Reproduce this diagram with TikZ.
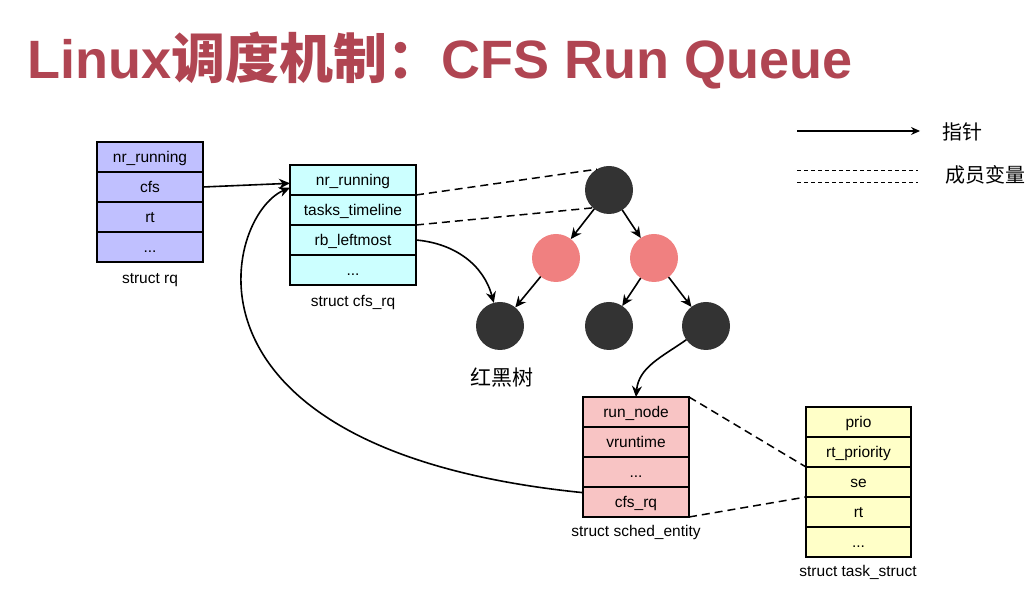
\documentclass[tikz,border=0pt]{standalone}
\usepackage{fontspec}
\setmainfont{Liberation Sans}
\newfontfamily\cjk{Noto Sans CJK SC}
\usetikzlibrary{arrows.meta,positioning}
\definecolor{titlered}{HTML}{B04552}
\definecolor{rqblue}{HTML}{C0C0FF}
\definecolor{cfscyan}{HTML}{CCFFFF}
\definecolor{sepink}{HTML}{F8C4C4}
\definecolor{tsyellow}{HTML}{FFFFC8}
\definecolor{rbdark}{HTML}{333333}
\definecolor{rbpink}{HTML}{F08080}

\tikzset{
  field/.style={draw, line width=1.8pt, outer sep=0pt, inner sep=0pt,
    minimum height=30pt, text height=12pt, text depth=0pt,
    font=\fontsize{15.5}{18}\selectfont},
  rqfield/.style={field, fill=rqblue, minimum width=106pt},
  cfsfield/.style={field, fill=cfscyan, minimum width=126pt},
  sefield/.style={field, fill=sepink, minimum width=106pt},
  tsfield/.style={field, fill=tsyellow, minimum width=105pt},
  caption/.style={anchor=base, inner sep=0pt, font=\fontsize{15.5}{18}\selectfont},
  rbblack/.style={circle, fill=rbdark, minimum size=48pt, inner sep=0pt, outer sep=0pt},
  rbred/.style={rbblack, fill=rbpink},
  ptr/.style={-{Stealth[length=11pt, width=10pt]}, line width=1.6pt},
  member/.style={dash pattern=on 8pt off 5pt, line width=1.5pt}
}

\begin{document}
\begin{tikzpicture}[x=1pt, y=1pt]
  \useasboundingbox (0,0) rectangle (1034,600);

  % -- title ----------------------------------------------------------------
  \node[anchor=base west, inner sep=0pt, text=titlered,
        font=\fontsize{54}{60}\selectfont\bfseries] (title) at (27,521)
        {Linux{\cjk 调度机制：}CFS Run Queue};

  % -- struct rq ------------------------------------------------------------
  \node[rqfield] (rq1) at (150,443) {nr\_running};
  \node[rqfield, below=0pt of rq1] (rq2) {cfs};
  \node[rqfield, below=0pt of rq2] (rq3) {rt};
  \node[rqfield, below=0pt of rq3] (rq4) {...};
  \node[caption] (rq-cap) at (150,316) {struct rq};

  % -- struct cfs_rq --------------------------------------------------------
  \node[cfsfield] (cfs1) at (353,420) {nr\_running};
  \node[cfsfield, below=0pt of cfs1] (cfs2) {tasks\_timeline};
  \node[cfsfield, below=0pt of cfs2] (cfs3) {rb\_leftmost};
  \node[cfsfield, below=0pt of cfs3] (cfs4) {...};
  \node[caption] (cfs-cap) at (353,293) {struct cfs\_rq};

  % -- red-black tree -------------------------------------------------------
  \node[rbblack] (root) at (609,410) {};
  \node[rbred]   (redl) at (556,342) {};
  \node[rbred]   (redr) at (654,342) {};
  \node[rbblack] (leaf1) at (500,274) {};
  \node[rbblack] (leaf2) at (609,274) {};
  \node[rbblack] (leaf3) at (706,274) {};
  \node[font=\cjk\fontsize{21}{24}\selectfont] (rb-cap) at (502,222) {红黑树};

  % -- struct sched_entity --------------------------------------------------
  \node[sefield] (se1) at (636,188) {run\_node};
  \node[sefield, below=0pt of se1] (se2) {vruntime};
  \node[sefield, below=0pt of se2] (se3) {...};
  \node[sefield, below=0pt of se3] (se4) {cfs\_rq};
  \node[caption] (se-cap) at (636,63) {struct sched\_entity};

  % -- struct task_struct ---------------------------------------------------
  \node[tsfield] (ts1) at (858.5,178) {prio};
  \node[tsfield, below=0pt of ts1] (ts2) {rt\_priority};
  \node[tsfield, below=0pt of ts2] (ts3) {se};
  \node[tsfield, below=0pt of ts3] (ts4) {rt};
  \node[tsfield, below=0pt of ts4] (ts5) {...};
  \node[caption] (ts-cap) at (858,23) {struct task\_struct};

  % -- pointers -------------------------------------------------------------
  \draw[ptr] (rq2.east) -- (cfs1.183);
  \draw[ptr] (cfs3.east) to[out=-5, in=105] (leaf1);
  \draw[ptr] (root) -- (redl);
  \draw[ptr] (root) -- (redr);
  \draw[ptr] (redl) -- (leaf1);
  \draw[ptr] (redr) -- (leaf2);
  \draw[ptr] (redr) -- (leaf3);
  \draw[ptr] (leaf3) to[out=215, in=85] (se1.north);
  \draw[ptr] (se4.170) .. controls (160,150) and (225,385) .. (cfs1.187);

  % -- member variables -----------------------------------------------------
  \draw[member] (cfs2.north east) -- (root.120);
  \draw[member] (cfs2.south east) -- (root.228);
  \draw[member] (se1.north east) -- (ts3.north west);
  \draw[member] (se4.south east) -- (ts3.south west);

  % -- legend ---------------------------------------------------------------
  \coordinate (lg-a) at (797,469);
  \coordinate (lg-b) at (920,469);
  \draw[-{Stealth[length=9pt, width=8pt]}, line width=1.1pt] (lg-a) -- (lg-b);
  \node[font=\cjk\fontsize{20}{24}\selectfont] (lg-ptr) at (962,468) {指针};
  \coordinate (lg-c) at (797,430);
  \coordinate (lg-d) at (918,430);
  \coordinate (lg-e) at (797,418);
  \coordinate (lg-f) at (918,418);
  \draw[dash pattern=on 4pt off 3pt, line width=0.9pt] (lg-c) -- (lg-d);
  \draw[dash pattern=on 4pt off 3pt, line width=0.9pt] (lg-e) -- (lg-f);
  \node[font=\cjk\fontsize{20}{24}\selectfont] (lg-mem) at (985,425) {成员变量};

\end{tikzpicture}
\end{document}
